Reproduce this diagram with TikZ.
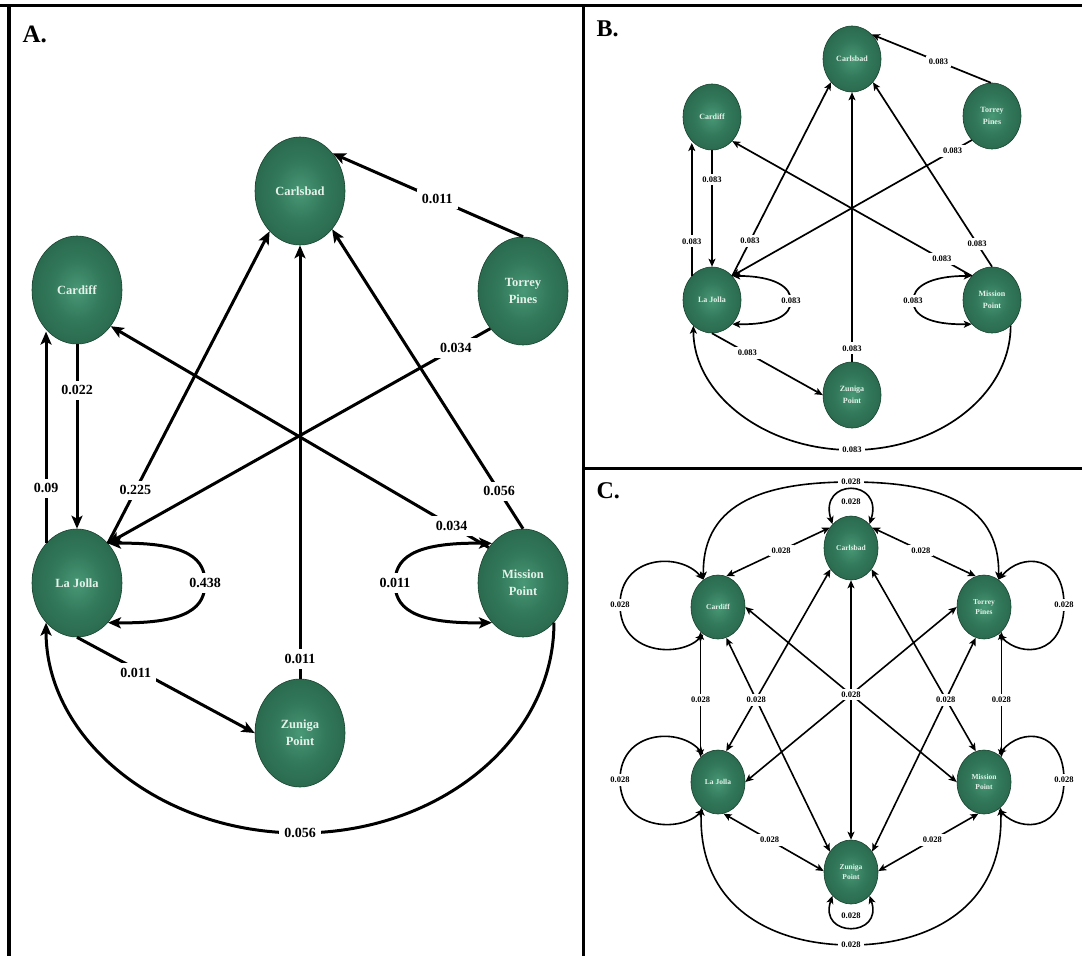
\documentclass[tikz,border=0pt]{standalone}
\usepackage{fontspec}
\setmainfont{Liberation Serif}
\usetikzlibrary{shapes.geometric,arrows.meta}
\definecolor{orbA}{RGB}{72,152,118}
\definecolor{orbB}{RGB}{50,120,90}
\definecolor{orbC}{RGB}{34,92,66}
\definecolor{orbD}{RGB}{22,66,46}
\definecolor{orbtext}{RGB}{228,242,234}
\pgfdeclareradialshading{orb}{\pgfpoint{0bp}{0bp}}{color(0bp)=(orbA); color(14bp)=(orbB); color(38bp)=(orbC); color(50bp)=(orbD)}
\begin{document}
\begin{tikzpicture}[x=1pt,y=-1pt,
  site/.style={ellipse, shade, shading=orb, draw=orbD, line width=0.6pt, inner sep=0pt, align=center, text=orbtext},
  siteA/.style={site, minimum width=90pt, minimum height=108pt, font=\fontsize{12.5}{17}\selectfont\bfseries},
  siteB/.style={site, minimum width=58pt, minimum height=66pt, font=\fontsize{8}{11.5}\selectfont\bfseries},
  siteC/.style={site, minimum width=54pt, minimum height=64pt, font=\fontsize{7.5}{10.5}\selectfont\bfseries},
  lblA/.style={fill=white, inner sep=5pt, font=\fontsize{14}{14}\selectfont\bfseries},
  lblS/.style={fill=white, inner sep=3pt, font=\fontsize{8.5}{8.5}\selectfont\bfseries},
  tipA/.tip={Stealth[length=13pt,width=11pt,inset=3pt]},
  tipS/.tip={Stealth[length=8pt,width=7pt,inset=2pt]},
  edgeA/.style={line width=3pt, -tipA},
  bothA/.style={line width=3pt, tipA-tipA},
  edgeB/.style={line width=1.7pt, -tipS},
  bothB/.style={line width=1.7pt, tipS-tipS},
  bothC/.style={line width=1.6pt, tipS-tipS},
  tag/.style={anchor=base west, font=\fontsize{25}{25}\selectfont\bfseries},
  frame/.style={line width=3pt}
]
\useasboundingbox (0,0) rectangle (1082,956);
\fill[white] (0,0) rectangle (1082,956);

% frame
\draw[frame] (0,5.5) -- (1082,5.5);
\draw[frame, line width=3.5pt] (9,4) -- (9,956);
\draw[frame] (583,4) -- (583,956);
\draw[frame] (583,468) -- (1082,468);

\node[tag] (tagA) at (19,42) {A.};
\node[tag, font=\fontsize{24}{24}\selectfont\bfseries] (tagB) at (593,36) {B.};
\node[tag, font=\fontsize{24}{24}\selectfont\bfseries] (tagC) at (593,498) {C.};

% ---------------- Panel A ----------------
\node[siteA] (Aca) at (300,191) {Carlsbad};
\node[siteA] (Acd) at (77,290) {Cardiff};
\node[siteA] (Atp) at (523,291) {Torrey\\Pines};
\node[siteA] (Alj) at (77,583) {La Jolla};
\node[siteA] (Amp) at (523,583) {Mission\\Point};
\node[siteA] (Azp) at (300,733) {Zuniga\\Point};

\draw[edgeA] (Atp.90) -- node[lblA, pos=0.45]{0.011} (Aca.49);
\draw[edgeA] (Atp.229) -- node[lblA, pos=0.09]{0.034} (Alj.52);
\draw[edgeA] (Acd.south) -- node[lblA, pos=0.25]{0.022} (Alj.north);
\draw[edgeA] (Alj.128) -- node[lblA, pos=0.26]{0.09} (Alj.128 |- Acd.235);
\draw[edgeA] (Alj.52) -- node[lblA, pos=0.17]{0.225} (Aca.233);
\draw[edgeA] (Azp.north) -- node[lblA, pos=0.046]{0.011} (Aca.south);
\draw[edgeA] (Amp.north) -- node[lblA, pos=0.125]{0.056} (Aca.310);
\draw[edgeA] (Amp.134) -- node[lblA, pos=0.098]{0.034} (Acd.313);
\draw[bothA] (Alj.52) .. controls (190,542) and (205,560) .. (205,583) node[lblA]{0.438} .. controls (205,606) and (190,624) .. (Alj.308);
\draw[bothA] (Amp.128) .. controls (410,542) and (395,560) .. (395,583) node[lblA]{0.011} .. controls (395,606) and (410,624) .. (Amp.232);
\draw[edgeA] (Alj.south) -- node[lblA, pos=0.33, yshift=-4pt]{0.011} (Azp.west);
\draw[edgeA] (Amp.308) .. controls (554,739) and (440,833) .. (300,833) node[lblA]{0.056} .. controls (160,833) and (46,739) .. (Alj.232);

% ---------------- Panel B ----------------
\node[siteB] (Bca) at (852,59) {Carlsbad};
\node[siteB] (Bcd) at (712,117) {Cardiff};
\node[siteB] (Btp) at (992,116) {Torrey\\Pines};
\node[siteB] (Blj) at (712,300) {La Jolla};
\node[siteB] (Bmp) at (992,300) {Mission\\Point};
\node[siteB] (Bzp) at (852,395) {Zuniga\\Point};

\draw[edgeB] (Btp.92) -- node[lblS, pos=0.44]{0.083} (Bca.51);
\draw[edgeB] (Btp.230) -- node[lblS, pos=0.08]{0.083} (Blj.50);
\draw[edgeB] (Bcd.south) -- node[lblS, pos=0.25]{0.083} (Blj.north);
\draw[edgeB] (Blj.130) -- node[lblS, pos=0.26]{0.083} (Blj.130 |- Bcd.235);
\draw[edgeB] (Blj.50) -- node[lblS, pos=0.18]{0.083} (Bca.228);
\draw[edgeB] (Bzp.north) -- node[lblS, pos=0.05]{0.083} (Bca.south);
\draw[edgeB] (Bmp.90) -- node[lblS, pos=0.125]{0.083} (Bca.312);
\draw[edgeB] (Bmp.130) -- node[lblS, pos=0.125]{0.083} (Bcd.310);
\draw[bothB] (Blj.50) .. controls (775,276) and (791,287) .. (791,301) node[lblS]{0.083} .. controls (791,315) and (775,325) .. (Blj.310);
\draw[bothB] (Bmp.130) .. controls (929,276) and (913,287) .. (913,301) node[lblS]{0.083} .. controls (913,315) and (929,325) .. (Bmp.230);
\draw[edgeB] (Blj.south) -- node[lblS, pos=0.32]{0.083} (Bzp.west);
\draw[edgeB] (Bmp.306) .. controls (1010.5,394) and (939.5,450) .. (852,450) node[lblS]{0.083} .. controls (764.5,450) and (693.5,394) .. (Blj.234);

% ---------------- Panel C ----------------
\node[siteC] (Cca) at (851,548) {Carlsbad};
\node[siteC] (Ccd) at (718,607) {Cardiff};
\node[siteC] (Ctp) at (984,607) {Torrey\\Pines};
\node[siteC] (Clj) at (718,782) {La Jolla};
\node[siteC] (Cmp) at (984,782) {Mission\\Point};
\node[siteC] (Czp) at (851,872) {Zuniga\\Point};

% outer arcs
\draw[bothC] (Ccd.118) .. controls (702,500) and (770,482) .. (851,482) node[lblS]{0.028} .. controls (932,482) and (1000,500) .. (Ctp.62);
\draw[bothC] (Clj.237) .. controls (698,905) and (770,945) .. (851,945) node[lblS]{0.028} .. controls (932,945) and (1004,905) .. (Cmp.303);
% self loops
\draw[bothC] (Cca.128) .. controls (818,478) and (884,478) .. (Cca.52) node[lblS, pos=0.5, yshift=-12pt]{0.028};
\draw[bothC] (Czp.232) .. controls (818,938) and (884,938) .. (Czp.308) node[lblS, pos=0.5, yshift=12pt]{0.028};
\draw[bothC] (Ccd.118) .. controls (680,552) and (620,555) .. (620,605) node[lblS]{0.028} .. controls (620,655) and (680,658) .. (Ccd.242);
\draw[bothC] (Clj.118) .. controls (680,727) and (620,730) .. (620,780) node[lblS]{0.028} .. controls (620,830) and (680,833) .. (Clj.242);
\draw[bothC] (Ctp.62) .. controls (1022,552) and (1064,555) .. (1064,605) node[lblS]{0.028} .. controls (1064,655) and (1022,658) .. (Ctp.298);
\draw[bothC] (Cmp.62) .. controls (1022,727) and (1064,730) .. (1064,780) node[lblS]{0.028} .. controls (1064,830) and (1022,833) .. (Cmp.298);
% sides
\draw[bothC] (Ccd.75) -- node[lblS, pos=0.53]{0.028} (Cca.136);
\draw[bothC] (Cca.44) -- node[lblS, pos=0.47]{0.028} (Ctp.105);
\draw[bothC] (Clj.280) -- node[lblS, pos=0.46]{0.028} (Czp.178);
\draw[bothC] (Cmp.260) -- node[lblS, pos=0.46]{0.028} (Czp.2);
\draw[bothC] (Clj.125) -- node[lblS, pos=0.456]{0.028} (Clj.125 |- Ccd.235);
\draw[bothC] (Cmp.55) -- node[lblS, pos=0.456]{0.028} (Cmp.55 |- Ctp.305);
% crossings
\draw[bothC] (Cca.226) -- (Clj.75);
\draw[bothC] (Ccd.285) -- node[lblS, pos=0.29]{0.028} (Czp.136);
\draw[bothC] (Cca.314) -- (Cmp.105);
\draw[bothC] (Ctp.255) -- node[lblS, pos=0.29]{0.028} (Czp.44);
\draw[bothC] (Ccd.east) -- (Cmp.west);
\draw[bothC] (Ctp.west) -- (Clj.east);
\draw[bothC] (Cca.south) -- node[lblS, pos=0.44]{0.028} (Czp.north);
\end{tikzpicture}
\end{document}
